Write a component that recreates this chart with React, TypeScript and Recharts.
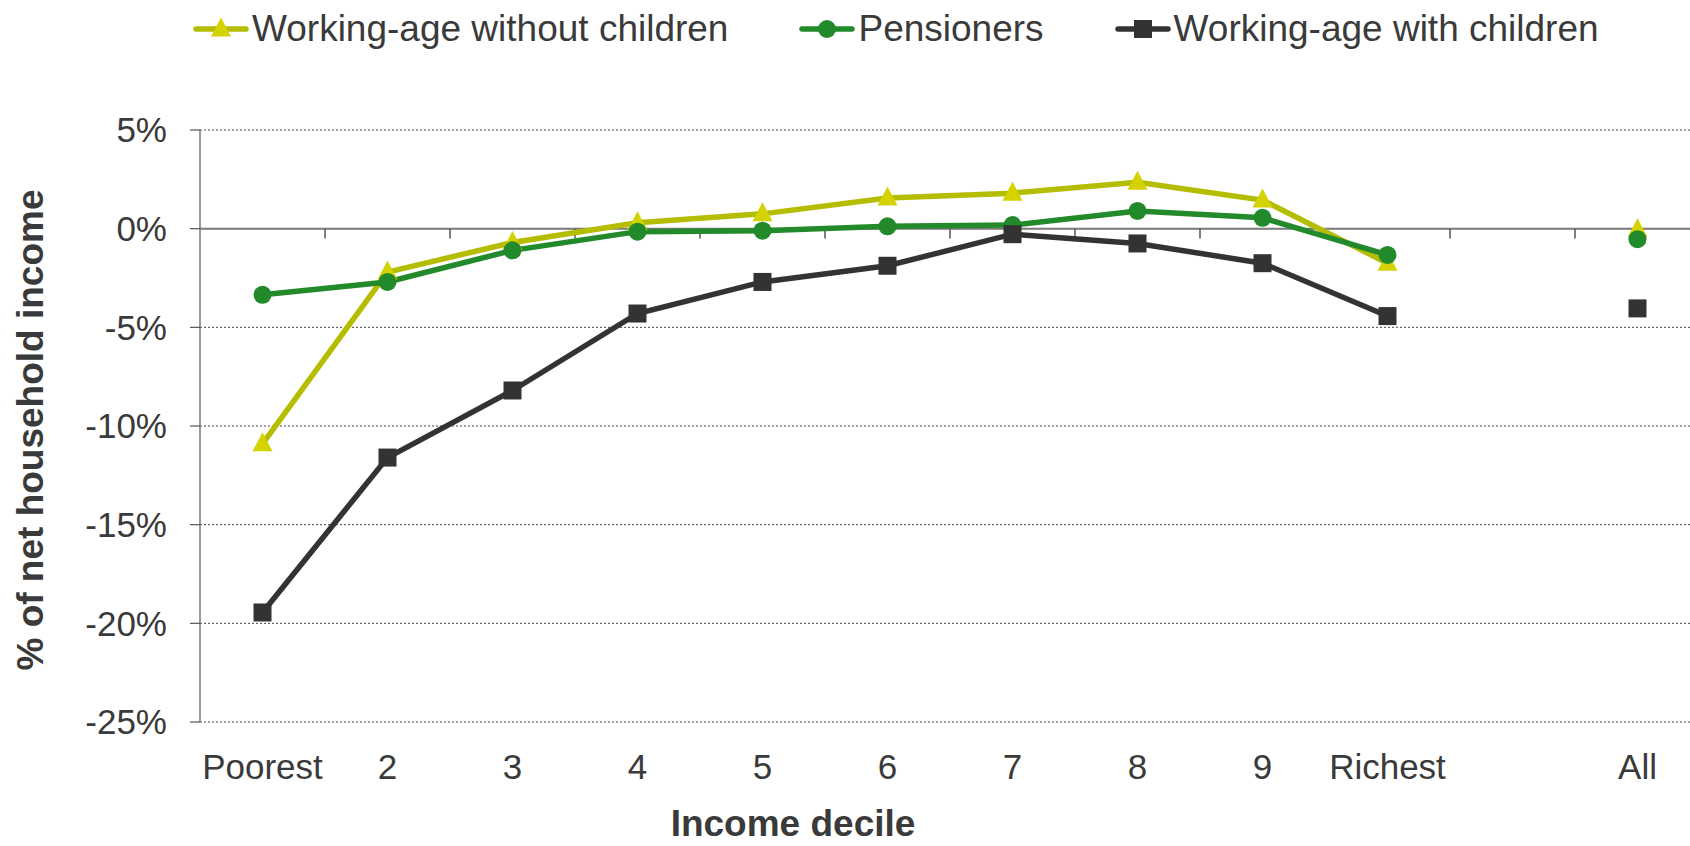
import React from "react";
import {
  LineChart,
  Line,
  XAxis,
  YAxis,
  CartesianGrid,
  ReferenceLine,
  Legend,
} from "recharts";

const categories = ["Poorest", "2", "3", "4", "5", "6", "7", "8", "9", "Richest", "", "All"];
const withoutChildren = [-10.9, -2.2, -0.7, 0.3, 0.75, 1.55, 1.8, 2.35, 1.45, -1.75, null, -0.05];
const pensioners = [-3.35, -2.7, -1.1, -0.15, -0.1, 0.12, 0.18, 0.9, 0.55, -1.33, null, -0.53];
const withChildren = [-19.45, -11.6, -8.2, -4.3, -2.7, -1.88, -0.28, -0.75, -1.75, -4.43, null, -4.04];
const yTicks = [-25, -20, -15, -10, -5, 0, 5];

const seriesNames = ["Working-age without children", "Pensioners", "Working-age with children"];

const YELLOW_LINE = "#b4bd00";
const YELLOW_MARK = "#d4d200";
const GREEN = "#228a2b";
const DARK = "#333333";
const TEXT = "#3a3a3a";
const FONT = "'Liberation Sans', Arial, sans-serif";

const data = categories.map((c, i) => ({
  x: i + 0.5,
  name: c,
  a: withoutChildren[i],
  b: pensioners[i],
  c: withChildren[i],
}));

const labelTicks = categories
  .map((c, i) => ({ c, v: i + 0.5 }))
  .filter((t) => t.c !== "")
  .map((t) => t.v);

const boundaries = categories.map((_, i) => i + 1);

function Triangle({ cx, cy, fill }: any) {
  return <path d={`M${cx},${cy - 11.5} L${cx + 10},${cy + 7.5} L${cx - 10},${cy + 7.5} Z`} fill={fill} />;
}
function Circle({ cx, cy, fill }: any) {
  return <circle cx={cx} cy={cy} r={9} fill={fill} />;
}
function Square({ cx, cy, fill }: any) {
  return <rect x={cx - 9} y={cy - 9} width={18} height={18} fill={fill} />;
}

const makeDot = (Shape: any, fill: string) => (props: any) => {
  const { cx, cy, index, value } = props;
  if (cx == null || cy == null || value == null || (Array.isArray(value) && value[1] == null)) {
    return <g key={`e-${index}`} />;
  }
  return <Shape key={`d-${index}`} cx={cx} cy={cy} fill={fill} />;
};

const legendItems = [
  { name: seriesNames[0], line: YELLOW_LINE, mark: YELLOW_MARK, Shape: Triangle },
  { name: seriesNames[1], line: GREEN, mark: GREEN, Shape: Circle },
  { name: seriesNames[2], line: DARK, mark: DARK, Shape: Square },
];

const renderLegend = () => (
  <div
    style={{
      display: "flex",
      alignItems: "center",
      paddingLeft: 193,
      height: 58,
      fontFamily: FONT,
      fontSize: 37,
      color: TEXT,
      whiteSpace: "nowrap",
    }}
  >
    {legendItems.map((it, i) => (
      <div key={i} style={{ display: "flex", alignItems: "center", marginRight: 71 }}>
        <svg width={56} height={30} style={{ marginRight: 3 }}>
          <line x1={3} y1={15} x2={53} y2={15} stroke={it.line} strokeWidth={5.5} strokeLinecap="round" />
          <it.Shape cx={28} cy={15} fill={it.mark} />
        </svg>
        <span>{it.name}</span>
      </div>
    ))}
  </div>
);

export default function App() {
  return (
    <div style={{ position: "absolute", left: 0, top: 0, width: 1690, height: 846, overflow: "hidden", background: "#fff" }}>
      <LineChart
        width={1700}
        height={846}
        data={data}
        margin={{ top: 72, right: 0, bottom: 0, left: 0 }}
        style={{ fontFamily: FONT }}
      >
        <Legend
          verticalAlign="top"
          align="left"
          content={renderLegend}
          wrapperStyle={{ top: 0, left: 0, width: 1690, height: 58 }}
        />
        <CartesianGrid horizontal vertical={false} stroke="#444" strokeDasharray="2 2" strokeWidth={1} />
        <XAxis
          type="number"
          dataKey="x"
          domain={[0, 12]}
          ticks={labelTicks}
          interval={0}
          tickFormatter={(v: number) => categories[Math.floor(v)]}
          axisLine={false}
          tickLine={false}
          tickSize={0}
          tickMargin={32}
          height={124}
          tick={{ fill: TEXT, fontSize: 35, fontFamily: FONT }}
          label={{
            content: () => (
              <text x={793} y={836} textAnchor="middle" fill={TEXT} fontSize={37} fontWeight="bold" fontFamily={FONT}>
                Income decile
              </text>
            ),
          }}
        />
        <YAxis
          type="number"
          domain={[-25, 5]}
          ticks={yTicks}
          interval={0}
          tickFormatter={(v: number) => `${v}%`}
          width={200}
          axisLine={{ stroke: "#7a7a7a", strokeWidth: 1.5 }}
          tickLine={{ stroke: "#555", strokeWidth: 1.2 }}
          tickSize={10}
          tickMargin={23}
          tick={{ fill: TEXT, fontSize: 35, fontFamily: FONT }}
          label={{
            content: () => (
              <text
                x={0}
                y={0}
                transform="translate(43,430) rotate(-90)"
                textAnchor="middle"
                fill={TEXT}
                fontSize={37}
                fontWeight="bold"
                fontFamily={FONT}
              >
                % of net household income
              </text>
            ),
          }}
        />
        <ReferenceLine y={0} stroke="#7a7a7a" strokeWidth={2} />
        {boundaries.map((b) => (
          <ReferenceLine
            key={`t-${b}`}
            segment={[
              { x: b, y: 0 },
              { x: b, y: -0.5 },
            ]}
            stroke="#555"
            strokeWidth={1.5}
          />
        ))}
        <Line
          type="linear"
          dataKey="a"
          name={seriesNames[0]}
          stroke={YELLOW_LINE}
          strokeWidth={5.5}
          dot={makeDot(Triangle, YELLOW_MARK)}
          activeDot={false}
          connectNulls={false}
          isAnimationActive={false}
        />
        <Line
          type="linear"
          dataKey="b"
          name={seriesNames[1]}
          stroke={GREEN}
          strokeWidth={5.5}
          dot={makeDot(Circle, GREEN)}
          activeDot={false}
          connectNulls={false}
          isAnimationActive={false}
        />
        <Line
          type="linear"
          dataKey="c"
          name={seriesNames[2]}
          stroke={DARK}
          strokeWidth={5.5}
          dot={makeDot(Square, DARK)}
          activeDot={false}
          connectNulls={false}
          isAnimationActive={false}
        />
      </LineChart>
    </div>
  );
}
